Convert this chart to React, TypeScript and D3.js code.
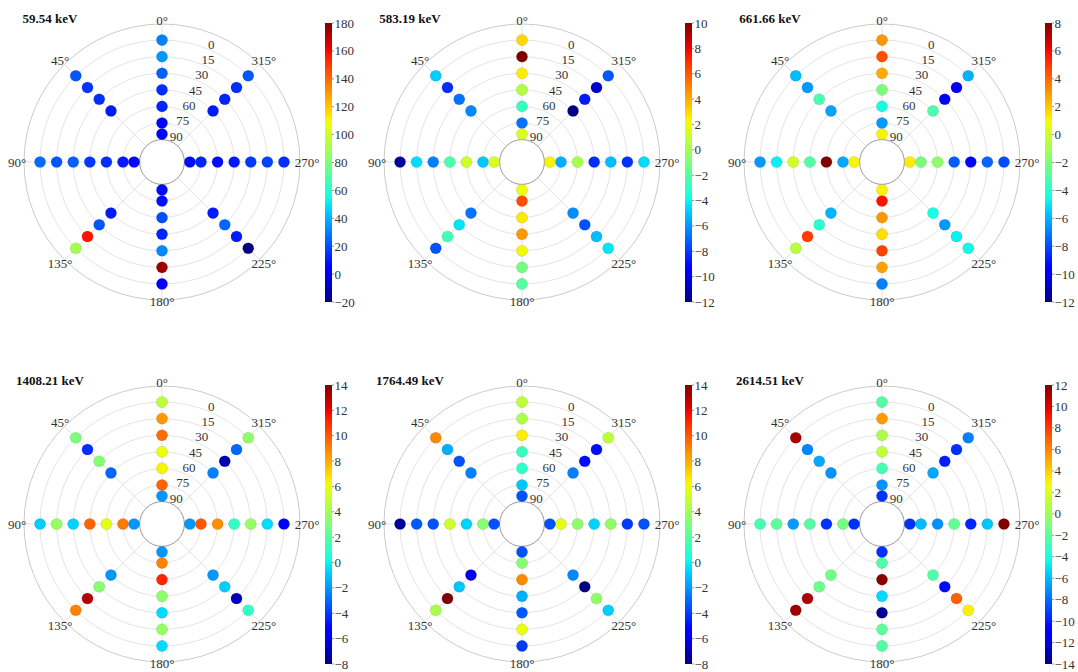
import React from "react";
import * as d3 from "d3";

// ---------- data ----------
const titles = ["59.54 keV", "583.19 keV", "661.66 keV", "1408.21 keV", "1764.49 keV", "2614.51 keV"];
const rayAngles = [0, 45, 90, 135, 180, 225, 270, 315];
const cardinalRadii = [0, 15, 30, 45, 60, 75, 85];
const diagonalRadii = [0, 15, 30, 45];
const radialTicks = [0, 15, 30, 45, 60, 75, 90];
const angleTicks = [0, 45, 90, 135, 180, 225, 270, 315];

// values per ray (order of rayAngles), outer -> inner
const values59 = [
  [30, 35, 24, 14, 12, 6, 4],
  [22, 15, 14, 10],
  [26, 22, 24, 16, 14, 10, 6],
  [90, 158, 22, 10],
  [5, 175, 32, 12, 20, 8, 7],
  [-19, 10, 25, 10],
  [14, 18, 16, 10, 7, 12, 7],
  [22, 14, 12, 10],
];
const values583 = [
  [3, 10, 2.5, 0.5, -2.8, -6.8, 1.5],
  [-4.8, -8.3, -6.8, -6.3],
  [-11.5, -4.5, -6.5, -2.3, 1.2, -5, 1.5],
  [-7.5, -2.5, -4.3, -6.7],
  [-2, -1.2, 2.2, 4.5, 2.6, 6.2, 2],
  [-4.3, -5.2, -7.5, -6.2],
  [-4.5, -8.2, -5.2, -8.3, 0.2, -5.5, 2.3],
  [-7.3, -10.5, -8.7, -12],
];
const values661 = [
  [3, 4.5, 2.6, -2, -4.5, -6.5, 1],
  [-5.8, -6.5, -3.3, -6.3],
  [-6.5, -4.8, 0, -3, 8, -6.2, 1],
  [-0.5, 5, -4, -6],
  [-7, 2.8, 4.8, 1.5, 3, 5.8, 1],
  [-4.6, -4.8, -6.5, -4.5],
  [-8, -7.5, -9.5, -7.7, -1.5, -2, 1.2],
  [-6, -10, -9.8, -3.2],
];
const values1408 = [
  [4.8, 8.5, 9.5, 6, 6.3, 9.7, -2],
  [3, -4.3, 3.2, -3],
  [-0.8, 3.7, -0.7, 9.7, 5.8, 9.2, -2],
  [9, 13, 3.3, -2],
  [-0.5, 3.7, -0.5, 3.5, 11.2, 9, -2],
  [1, -6.8, -0.8, -2],
  [-5.5, -0.5, 3.7, 1, 8.7, 10, -2],
  [3.5, -3, -7, -2.5],
];
const values1764 = [
  [4.8, 4.3, 6.5, 1.2, 1, -1, -3.5],
  [8.8, -1.5, -3.5, -2.5],
  [-7.5, -3.3, -3.5, 5.2, -0.7, 3.3, -3.5],
  [4.2, 14, -1, -5.8],
  [-4, 6, -3.3, -1.5, 8.8, 3.3, -3.5],
  [-0.8, 3.5, -8, -2.3],
  [-3.5, -4, 3.5, -0.7, 3.5, 5.8, -3.5],
  [4.8, -5, -5, -2.5],
];
const values2614 = [
  [-2.3, 5.4, 0.5, 1.2, -2.7, -7, -9.5],
  [11, -7.3, -6.5, -7],
  [-2.7, -2, -6.8, -2.3, -9.5, -1.2, -9.5],
  [11.3, 11, -1.5, -1.3],
  [-2.3, -2, -13.5, -5.2, 11.8, -2.4, -9.5],
  [3, 7, -10.5, -2.4],
  [12, -5.7, -9.8, -1.8, -7, -6, -9.5],
  [-7.5, -9.5, -10, -6.5],
];
const allValues = [values59, values583, values661, values1408, values1764, values2614];
const colorLimits = [[-20, 180], [-12, 10], [-12, 8], [-8, 14], [-8, 14], [-14, 12]];
const colorTickSteps = [20, 2, 2, 2, 2, 2];

// ---------- jet colormap ----------
function seg(x: number, pts: number[][]) {
  for (let i = 0; i < pts.length - 1; i++) {
    const [x0, y0] = pts[i];
    const [x1, y1] = pts[i + 1];
    if (x >= x0 && x <= x1) return y0 + ((y1 - y0) * (x - x0)) / (x1 - x0 || 1);
  }
  return pts[pts.length - 1][1];
}
const redPts = [[0, 0], [0.35, 0], [0.66, 1], [0.89, 1], [1, 0.5]];
const greenPts = [[0, 0], [0.125, 0], [0.375, 1], [0.64, 1], [0.91, 0], [1, 0]];
const bluePts = [[0, 0.5], [0.11, 1], [0.34, 1], [0.65, 0], [1, 0]];
function jet(t: number) {
  const x = Math.max(0, Math.min(1, t));
  return d3.rgb(seg(x, redPts) * 255, seg(x, greenPts) * 255, seg(x, bluePts) * 255).formatHex();
}

// ---------- layout ----------
const W = 1078;
const H = 672;
const centersX = [162, 522, 882];
const centersY = [162, 524];
const rScale = d3.scaleLinear().domain([90, -14.5]).range([22.4, 138]);
const FONT = "'Liberation Serif', 'DejaVu Serif', serif";
const fmt = (v: number) => (v < 0 ? "\u2212" + Math.abs(v) : String(v));

function polar(cx: number, cy: number, thetaDeg: number, r: number) {
  const t = (thetaDeg * Math.PI) / 180;
  return [cx - r * Math.sin(t), cy - r * Math.cos(t)];
}

function Panel({ idx }: { idx: number }) {
  const cx = centersX[idx % 3];
  const cy = centersY[Math.floor(idx / 3)];
  const [vmin, vmax] = colorLimits[idx];
  const norm = d3.scaleLinear().domain([vmin, vmax]).range([0, 1]);
  const values = allValues[idx];
  const outerR = rScale(-14.5);
  const innerR = rScale(90);
  const barTop = cy - 139;
  const barBottom = cy + 140;
  const barScale = d3.scaleLinear().domain([vmin, vmax]).range([barBottom, barTop]);
  const ticks = d3.range(vmin, vmax + 0.001, colorTickSteps[idx]);
  const gradId = "jetgrad" + idx;
  const stops = d3.range(0, 1.0001, 0.02);

  return (
    <g>
      <defs>
        <linearGradient id={gradId} x1="0" y1="1" x2="0" y2="0">
          {stops.map((s) => (
            <stop key={s} offset={s} stopColor={jet(s)} />
          ))}
        </linearGradient>
      </defs>
      {/* rings */}
      {radialTicks.slice(0, -1).map((v) => (
        <circle key={"ring" + v} cx={cx} cy={cy} r={rScale(v)} fill="none" stroke="#dcdcdc" strokeWidth={0.8} />
      ))}
      {/* spokes */}
      {angleTicks.map((a) => {
        const [x1, y1] = polar(cx, cy, a, innerR);
        const [x2, y2] = polar(cx, cy, a, outerR);
        return <line key={"sp" + a} x1={x1} y1={y1} x2={x2} y2={y2} stroke="#dcdcdc" strokeWidth={0.8} />;
      })}
      <circle cx={cx} cy={cy} r={outerR} fill="none" stroke="#c4c4c4" strokeWidth={0.9} />
      <circle cx={cx} cy={cy} r={innerR} fill="none" stroke="#8a8a8a" strokeWidth={0.9} />
      {/* angle labels */}
      {angleTicks.map((a) => {
        const s = Math.abs(Math.sin((a * Math.PI) / 180));
        const base = a === 180 ? 139.5 : 141.5;
        const [x, y] = polar(cx, cy, a, base + 3.5 * s);
        return (
          <text key={"al" + a} x={x} y={y} textAnchor="middle" dominantBaseline="central" fontFamily={FONT} fontSize={13} fill="#333">
            {a + "\u00b0"}
          </text>
        );
      })}
      {/* points */}
      {rayAngles.map((a, ri) => {
        const radii = a % 90 === 0 ? cardinalRadii : diagonalRadii;
        return radii.map((rv, pi) => {
          const [x, y] = polar(cx, cy, a, rScale(rv));
          const val = values[ri][pi];
          return (
            <circle key={"pt" + a + "_" + rv} cx={x} cy={y} r={5.6} fill={jet(norm(val))} stroke="rgba(0,0,0,0.2)" strokeWidth={0.5} />
          );
        });
      })}
      {/* radial labels */}
      {radialTicks.map((v) => {
        const [x, y] = polar(cx, cy, -22.5, rScale(v));
        return (
          <text key={"rl" + v} x={x - 0.7} y={y - 5.2} textAnchor="start" dominantBaseline="central" fontFamily={FONT} fontSize={13} fill="#333">
            {v}
          </text>
        );
      })}
      {/* title */}
      <text x={cx - 112} y={cy - 144} textAnchor="middle" dominantBaseline="central" fontFamily={FONT} fontWeight="bold" fontSize={13} fill="#111">
        {titles[idx]}
      </text>
      {/* colorbar */}
      <rect x={cx + 163} y={barTop} width={7} height={barBottom - barTop} fill={`url(#${gradId})`} />
      {ticks.map((t) => (
        <g key={"ct" + t}>
          <line x1={cx + 170} x2={cx + 172} y1={barScale(t)} y2={barScale(t)} stroke="#444" strokeWidth={0.6} />
          <text x={cx + 172.5} y={barScale(t)} dominantBaseline="central" fontFamily={FONT} fontSize={13} fill="#333">
            {fmt(Math.round(t))}
          </text>
        </g>
      ))}
    </g>
  );
}

export default function App() {
  return (
    <svg width={W} height={H} style={{ position: "absolute", left: 0, top: 0, background: "#fff" }}>
      <rect x={0} y={0} width={W} height={H} fill="#fff" />
      {titles.map((_, i) => (
        <Panel key={i} idx={i} />
      ))}
    </svg>
  );
}
